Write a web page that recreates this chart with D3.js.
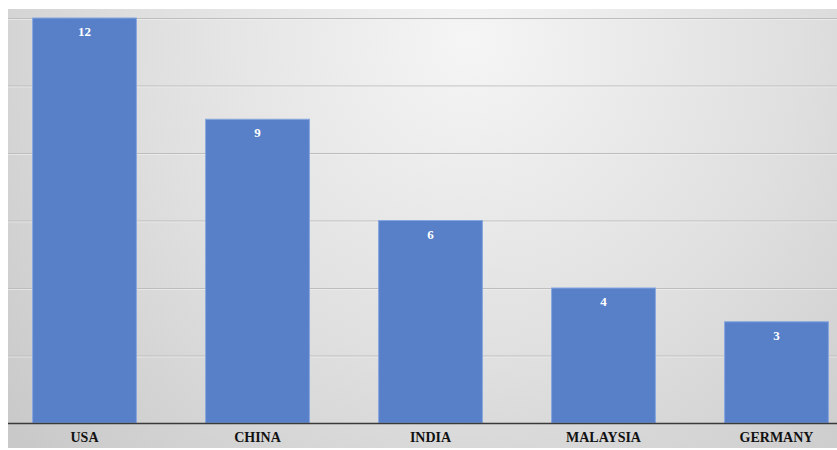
<!DOCTYPE html>
<html>
<head>
<meta charset="utf-8">
<script src="https://cdn.jsdelivr.net/npm/d3@7"></script>
<style>
  body { margin: 0; background: #fff; }
  svg { display: block; }
</style>
</head>
<body>
<svg id="bar_chart" width="837" height="450"></svg>
<script>
const countries = ["USA", "CHINA", "INDIA", "MALAYSIA", "GERMANY"];
const counts = [12, 9, 6, 4, 3];
const yTicks = [0, 2, 4, 6, 8, 10, 12];

window.addEventListener("load", () => {
  let svg = d3.select("#bar_chart");

  // radial grey backdrop, like the office chart style
  let grad = svg.append("defs").append("radialGradient")
    .attr("id", "bg").attr("gradientUnits", "userSpaceOnUse")
    .attr("cx", 470).attr("cy", 40).attr("r", 600);
  grad.append("stop").attr("offset", 0).attr("stop-color", "#f5f5f5");
  grad.append("stop").attr("offset", 0.55).attr("stop-color", "#dfdfdf");
  grad.append("stop").attr("offset", 1).attr("stop-color", "#c9c9c9");

  svg.append("rect").attr("x", 8).attr("y", 9).attr("width", 829).attr("height", 439)
    .attr("fill", "url(#bg)");

  let data = countries.map((c, i) => ({name: c, value: counts[i]}));

  let scX = d3.scaleBand().domain(countries).range([-2, 863])
    .paddingInner(0.4).paddingOuter(0.2);
  let scY = d3.scaleLinear().domain([0, 12]).range([423, 18]);

  // gridlines
  let grid = svg.append("g");
  grid.selectAll("line.g").data(yTicks.filter(d => d > 0)).enter().append("line")
    .attr("x1", 8).attr("x2", 837)
    .attr("y1", d => scY(d) + 0.5).attr("y2", d => scY(d) + 0.5)
    .attr("stroke", "#bdbdbd").attr("stroke-width", 1);
  grid.selectAll("line.h").data(yTicks.filter(d => d > 0)).enter().append("line")
    .attr("x1", 8).attr("x2", 837)
    .attr("y1", d => scY(d) + 1.5).attr("y2", d => scY(d) + 1.5)
    .attr("stroke", "#f2f2f2").attr("stroke-width", 1).attr("stroke-opacity", 0.6);

  // bars
  svg.append("g").selectAll("rect").data(data).enter().append("rect")
    .attr("x", d => scX(d.name)).attr("y", d => scY(d.value))
    .attr("width", scX.bandwidth()).attr("height", d => scY(0) - scY(d.value))
    .attr("fill", "#5780c9").attr("stroke", "#86a6dd").attr("stroke-width", 1);

  // value labels
  svg.append("g").selectAll("text").data(data).enter().append("text")
    .text(d => d.value)
    .attr("x", d => scX(d.name) + scX.bandwidth() / 2)
    .attr("y", d => scY(d.value) + 18)
    .style("font-family", "'Liberation Serif', 'Times New Roman', serif")
    .style("font-weight", "bold").style("font-size", "13px")
    .attr("fill", "#fff").attr("text-anchor", "middle");

  // baseline
  svg.append("line").attr("x1", 8).attr("x2", 837)
    .attr("y1", scY(0) + 0.5).attr("y2", scY(0) + 0.5)
    .attr("stroke", "#3a3a3a").attr("stroke-width", 1.3);

  // category axis
  let xAxis = svg.append("g").attr("transform", `translate(0, ${scY(0)})`)
    .call(d3.axisBottom(scX).tickSize(0).tickPadding(0));
  xAxis.select(".domain").remove();
  xAxis.selectAll("text")
    .attr("dy", 19)
    .style("font-family", "'Liberation Serif', 'Times New Roman', serif")
    .style("font-weight", "bold").style("font-size", "14px")
    .attr("fill", "#111");
});
</script>
</body>
</html>
